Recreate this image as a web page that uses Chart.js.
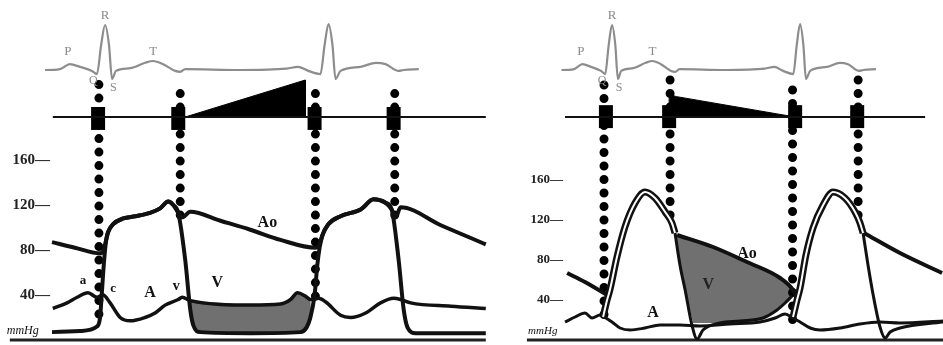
<!DOCTYPE html>
<html>
<head>
<meta charset="utf-8">
<script src="https://cdn.jsdelivr.net/npm/chart.js"></script>
<style>
  html, body { margin: 0; padding: 0; background: #fff; }
  #wrap { position: relative; width: 943px; height: 345px; overflow: hidden; }
  #chartLeft { position: absolute; left: 0; top: 0; }
  #chartRight { position: absolute; left: 480px; top: 0; }
</style>
</head>
<body>
<div id="wrap">
  <canvas id="chartLeft" width="490" height="345"></canvas>
  <canvas id="chartRight" width="463" height="345"></canvas>
</div>

<script>
// time in ms from the first R wave, pressure in mmHg, ECG in mV
const pressureTicks = [40, 80, 120, 160];

// ECG, same rhythm in both panels
const ecg = [[-298,0.02],[-215,0],[-161,0.02],[-126,0.13],[-90,0.07],[-47,-0.02],[-29,-0.09],[-14,0.56],[0,1.0],[14,0.56],[25,-0.2],[39,-0.02],[90,0.04],[143,0.16],[172,0.2],[208,0.13],[251,-0.02],[269,-0.04],[287,0.02],[484,0],[650,0.03],[690,0.07],[728,-0.02],[771,-0.09],[786,0.56],[800,1.02],[814,0.56],[825,-0.2],[843,-0.02],[915,0.07],[969,0.16],[1004,0.13],[1051,-0.02],[1069,0],[1123,0.02]];

// ---- left panel: mitral stenosis ----
const leftAo = [[-190,87],[-108,82],[-18,77],[-7,79],[4,89],[11,96],[29,103],[65,108],[108,110],[161,113],[197,117],[226,123],[244,120],[262,113],[276,109],[305,114],[413,106],[520,98],[628,89],[753,82],[764,83],[778,93],[800,103],[843,110],[915,116],[961,125],[1004,122],[1026,116],[1040,109],[1058,118],[1202,102],[1363,85]];
const leftV = [[-190,7],[-90,8],[-29,12],[-18,20],[-11,44],[-4,69],[4,89],[11,96],[29,103],[65,108],[108,110],[161,113],[197,117],[226,123],[244,120],[262,113],[287,71],[305,27],[316,13],[341,7],[520,6],[699,7],[721,11],[735,20],[750,40],[760,67],[768,82],[778,93],[800,103],[843,110],[915,116],[961,125],[1004,122],[1026,116],[1051,71],[1069,27],[1083,11],[1112,6],[1363,6]];
const leftA = [[-187,28],[-136,33],[-100,38],[-61,42],[-29,38],[-7,40],[18,33],[54,20],[90,17],[143,20],[179,24],[215,31],[262,36],[276,38],[305,35],[520,31],[628,32],[664,36],[689,42],[717,39],[735,36],[764,37],[789,34],[843,22],[879,20],[933,24],[986,33],[1033,37],[1058,36],[1094,33],[1238,30],[1363,28]];
const leftGradient = [[305,35],[520,31],[628,32],[664,36],[689,42],[717,39],[735,36],[739,18],[721,11],[699,7],[520,6],[341,7],[316,13],[305,27]];
const leftMurmur = [[287,0],[717,1.0],[717,0]];
const leftValves = [-25, 262, 750, 1033];
const leftGuides = [[-22,227,18],[269,219,105],[753,219,36],[1037,219,108]];

// ---- right panel: aortic regurgitation ----
const rightAoPre = [[-191,67],[-115,58],[-21,45]];
const rightSys1 = [[-38,23],[-21,40],[-9,50],[21,83],[55,113],[98,137],[140,148],[183,142],[226,128],[255,117],[268,107]];
const rightAo1 = [[277,105],[430,93],[574,78],[715,62],[770,50],[787,42]];
const rightSys2 = [[770,23],[787,40],[800,52],[825,85],[855,112],[898,135],[940,148],[991,142],[1034,128],[1055,117],[1068,107]];
const rightAo2 = [[1072,107],[1225,87],[1404,67]];
const rightV1 = [[268,107],[289,75],[311,50],[340,15],[362,1],[387,10],[460,17],[545,19],[642,22],[702,30],[736,37],[766,44]];
const rightV2 = [[1068,107],[1089,75],[1111,45],[1140,13],[1162,2],[1183,8],[1225,12],[1408,18]];
const rightA = [[-200,18],[-157,23],[-115,27],[-85,22],[-51,25],[-26,22],[0,18],[34,12],[77,10],[140,12],[204,15],[289,15],[374,14],[502,16],[630,18],[694,22],[736,26],[770,22],[800,18],[843,12],[885,10],[970,12],[1055,16],[1140,18],[1225,17],[1408,19]];
const rightRegurg = [[277,105],[430,93],[574,78],[715,62],[770,50],[766,44],[736,37],[702,30],[642,22],[545,19],[460,17],[345,17],[311,50],[289,75],[268,107]];
const rightMurmur = [[243,0],[243,0.5],[252,0.59],[275,0.55],[779,0]];
const rightValves = [-26, 243, 779, 1043];
const rightGuides = [[-34,255,20],[247,260,112],[768,250,18],[1047,260,113]];

const pts = arr => arr.map(([x, y]) => ({ x, y }));

function line(data, extra) {
    return Object.assign({
        data: pts(data),
        borderColor: '#111',
        borderWidth: 4,
        pointRadius: 0,
        fill: false,
        clip: false,
        tension: 0,
        yAxisID: 'y',
        order: 2
    }, extra);
}
const smooth = { cubicInterpolationMode: 'monotone', tension: 0.4 };

function guideSets(guides) {
    return guides.map(([t, top, bottom]) => line([[t, top], [t, bottom]], {
        borderWidth: 9, borderDash: [0, 13.5], borderCapStyle: 'round', borderColor: '#000', order: 3
    }));
}
function valveSets(valves, h) {
    return valves.map(t => line([[t, -h[1]], [t, h[0]]], {
        yAxisID: 'ym', borderWidth: 14, borderCapStyle: 'butt', borderColor: '#000', order: 3
    }));
}

const texts = {
    id: 'texts',
    afterDatasetsDraw(chart, args, opts) {
        const ctx = chart.ctx;
        ctx.save();
        ctx.textBaseline = 'middle';
        for (const l of opts.items) {
            ctx.font = l.font;
            ctx.fillStyle = l.color || '#111';
            ctx.textAlign = l.align || 'center';
            ctx.fillText(l.text, chart.scales.x.getPixelForValue(l.x), chart.scales[l.axis || 'y'].getPixelForValue(l.y));
        }
        ctx.restore();
    }
};

const serif = '"Liberation Serif", "DejaVu Serif", serif';
const ecgLabels = [
    { text: 'P', x: -133, y: 0.4, axis: 'ye', font: '13px ' + serif, color: '#8a8a8a' },
    { text: 'R', x: 0, y: 1.22, axis: 'ye', font: '13px ' + serif, color: '#8a8a8a' },
    { text: 'T', x: 172, y: 0.4, axis: 'ye', font: '13px ' + serif, color: '#8a8a8a' },
    { text: 'Q', x: -42, y: -0.24, axis: 'ye', font: '12px ' + serif, color: '#8a8a8a' },
    { text: 'S', x: 30, y: -0.4, axis: 'ye', font: '12px ' + serif, color: '#8a8a8a' }
];

function makeChart(id, cfg) {
    new Chart(document.getElementById(id), {
        type: 'line',
        data: { datasets: cfg.datasets },
        plugins: [texts],
        options: {
            responsive: false,
            animation: false,
            layout: { autoPadding: false, padding: { left: 0, right: 0, top: 0, bottom: 5 } },
            plugins: { legend: { display: false }, tooltip: { enabled: false }, texts: { items: cfg.labels } },
            scales: {
                x: { type: 'linear', display: false, min: cfg.xMin, max: cfg.xMax },
                y: {
                    type: 'linear', position: 'left', min: 0, max: cfg.yMax,
                    afterFit: s => { s.width = cfg.axisWidth; s.paddingTop = 0; s.paddingBottom = 0; },
                    afterBuildTicks: s => { s.ticks = pressureTicks.map(v => ({ value: v })); },
                    ticks: { callback: v => v + '—', font: { family: serif, size: cfg.tickSize, weight: 'bold' }, color: '#222', padding: 2 },
                    grid: { display: false, drawTicks: false },
                    border: { display: false }
                },
                ye: { type: 'linear', display: false, min: -6, max: 1.5556 },
                ym: { type: 'linear', display: false, min: -6.027, max: 3.162 }
            }
        }
    });
}

makeChart('chartLeft', {
    xMin: -190, xMax: 1378, yMax: 302.2, axisWidth: 52, tickSize: 15,
    datasets: [
        line(leftGradient, { fill: 'shape', backgroundColor: '#707070', borderColor: 'transparent', borderWidth: 0, order: 9 }),
        line(ecg, Object.assign({ yAxisID: 'ye', borderColor: '#8d8d8d', borderWidth: 2.2 }, smooth)),
        line([[-187, 0], [1363, 0]], { yAxisID: 'ym', borderWidth: 2 }),
        line(leftMurmur, { yAxisID: 'ym', fill: { value: 0 }, backgroundColor: '#000', borderColor: '#000', borderWidth: 1 }),
        ...valveSets(leftValves, [0.27, 0.35]),
        ...guideSets(leftGuides),
        line(leftAo, smooth),
        line(leftV, smooth),
        line(leftA, Object.assign({ borderWidth: 3.5 }, smooth)),
        line([[-341, 0], [1363, 0]], { borderWidth: 3, borderColor: '#222' })
    ],
    labels: ecgLabels.concat([
        { text: 'Ao', x: 581, y: 104, font: 'bold 16px ' + serif },
        { text: 'V', x: 402, y: 51, font: 'bold 16px ' + serif },
        { text: 'A', x: 161, y: 42, font: 'bold 16px ' + serif },
        { text: 'v', x: 255, y: 48, font: 'bold 14px ' + serif },
        { text: 'a', x: -79, y: 53, font: 'bold 13px ' + serif },
        { text: 'c', x: 29, y: 46, font: 'bold 13px ' + serif },
        { text: 'mmHg', x: -352, y: 8, align: 'left', font: 'italic 12px ' + serif }
    ])
});

makeChart('chartRight', {
    xMin: -200, xMax: 1408, yMax: 340, axisWidth: 85, tickSize: 13,
    datasets: [
        line(rightRegurg, { fill: 'shape', backgroundColor: '#707070', borderColor: 'transparent', borderWidth: 0, order: 9 }),
        line(ecg, Object.assign({ yAxisID: 'ye', borderColor: '#8d8d8d', borderWidth: 2.2 }, smooth)),
        line([[-200, 0], [1332, 0]], { yAxisID: 'ym', borderWidth: 2 }),
        line(rightMurmur, { yAxisID: 'ym', fill: { value: 0 }, backgroundColor: '#000', borderColor: '#000', borderWidth: 1 }),
        ...valveSets(rightValves, [0.32, 0.3]),
        ...guideSets(rightGuides),
        line(rightSys1, Object.assign({ borderColor: '#fff', borderWidth: 2, order: 0 }, smooth)),
        line(rightSys2, Object.assign({ borderColor: '#fff', borderWidth: 2, order: 0 }, smooth)),
        line(rightSys1, Object.assign({ borderWidth: 7, order: 1 }, smooth)),
        line(rightSys2, Object.assign({ borderWidth: 7, order: 1 }, smooth)),
        line(rightAoPre, smooth),
        line(rightAo1, smooth),
        line(rightAo2, smooth),
        line(rightV1, Object.assign({ borderWidth: 3 }, smooth)),
        line(rightV2, Object.assign({ borderWidth: 3 }, smooth)),
        line(rightA, Object.assign({ borderWidth: 3 }, smooth)),
        line([[-362, 0], [1408, 0]], { borderWidth: 3, borderColor: '#222' })
    ],
    labels: ecgLabels.concat([
        { text: 'Ao', x: 574, y: 86, font: 'bold 16px ' + serif },
        { text: 'V', x: 410, y: 55, font: 'bold 16px ' + serif, color: '#222' },
        { text: 'A', x: 174, y: 27, font: 'bold 16px ' + serif },
        { text: 'mmHg', x: -357, y: 9, align: 'left', font: 'italic 11px ' + serif }
    ])
});
</script>
</body>
</html>
